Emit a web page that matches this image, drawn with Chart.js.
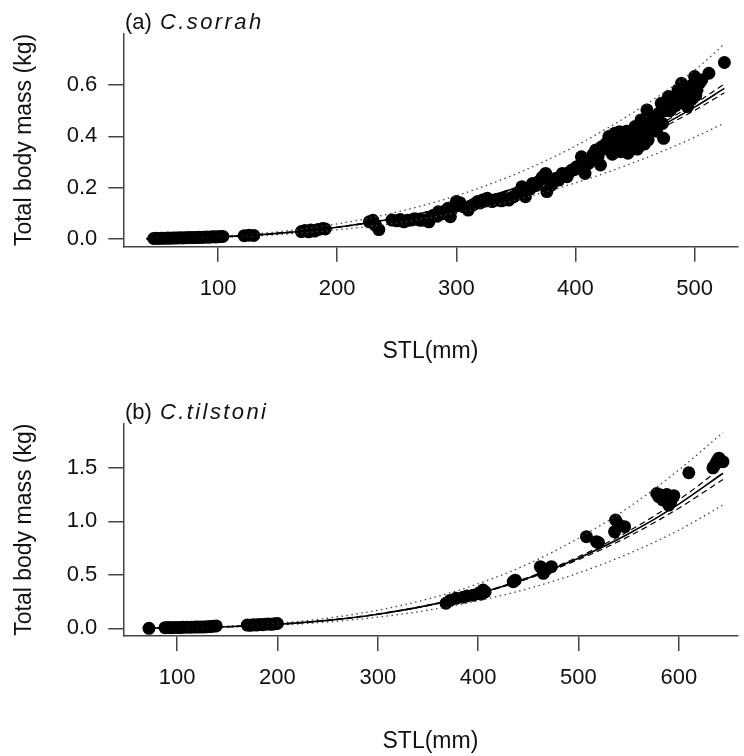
<!DOCTYPE html>
<html><head><meta charset="utf-8">
<script src="https://cdn.jsdelivr.net/npm/chart.js@4.4.1/dist/chart.umd.min.js"></script>
<style>
html,body{margin:0;padding:0;background:#fff;overflow:hidden;width:744px;height:756px}
canvas{position:absolute;left:0}
#ca{top:0}#cb{top:378px}
</style></head>
<body>
<canvas id="ca" width="744" height="378"></canvas>
<canvas id="cb" width="744" height="378"></canvas>
<script>
// ---------- Panel (a) C.sorrah ----------
const sorrahLength = [46,48,50,52,54,56,58,60,62,64,66,68,70,72,74,76,78,80,82,84,86,88,90,92,94,96,98,100,102,104,
  122,126,130,
  170,173,176,178,181,184,188,190,
  227,230,232,235,
  246,250,253,256,259,262,265,267,270,273,277,279,281,284,285,287,289,291,293,295,296,298,300,302,
  303,306,310,312,314,316,318,320,322,324,326,328,330,333,336,338,340,342,344,346,348,350,353,355,357,358,
  362,364,367,369,372,375,376,378,380,383,386,389,391,393,395,397,399,401,403,405,407,408,411,413,
  415,417,419,421,422,424,426,428,429,430,431,433,434,435,437,438,439,440,441,442,443,444,445,446,447,448,449,450,451,452,453,454,455,456,457,458,459,460,461,462,464,465,466,468,469,470,472,473,474,475,
  476,478,479,480,481,483,484,486,487,489,490,491,493,494,495,497,498,500,501,502,504,506,512,525];
const sorrahMass = [0.001,0.002,0.001,0.002,0.002,0.002,0.003,0.002,0.003,0.003,0.003,0.004,0.003,0.004,0.004,0.005,0.004,0.005,0.005,0.006,0.005,0.006,0.007,0.006,0.007,0.008,0.007,0.008,0.009,0.009,
  0.012,0.014,0.013,
  0.028,0.032,0.027,0.034,0.030,0.036,0.040,0.038,
  0.066,0.072,0.053,0.036,
  0.073,0.070,0.075,0.066,0.072,0.073,0.078,0.076,0.072,0.073,0.066,0.085,0.092,0.088,0.105,0.097,0.098,0.110,0.119,0.086,0.112,0.126,0.145,0.130,
  0.141,0.125,0.112,0.128,0.132,0.138,0.145,0.140,0.151,0.147,0.158,0.150,0.145,0.152,0.151,0.148,0.158,0.155,0.151,0.160,0.164,0.170,0.177,0.203,0.185,0.164,
  0.195,0.216,0.208,0.223,0.240,0.255,0.184,0.225,0.210,0.235,0.229,0.255,0.245,0.242,0.260,0.268,0.270,0.281,0.275,0.320,0.290,0.255,0.294,0.310,
  0.330,0.346,0.320,0.288,0.359,0.350,0.373,0.399,0.360,0.386,0.330,0.412,0.359,0.390,0.418,0.340,0.373,0.400,0.399,0.360,0.420,0.334,0.380,0.412,0.350,0.373,0.410,0.438,0.390,0.350,0.359,0.420,0.464,0.380,0.412,0.370,0.440,0.503,0.386,0.430,0.438,0.470,0.451,0.420,0.464,0.490,0.529,0.450,0.392,0.500,
  0.520,0.555,0.500,0.503,0.530,0.542,0.520,0.581,0.550,0.607,0.555,0.530,0.588,0.516,0.570,0.542,0.600,0.633,0.560,0.581,0.607,0.620,0.646,0.688];
const sorrahCurveLength = [40,75,100,150,200,250,300,350,400,450,500,525];
const sorrahFit   = [0.0006,0.0032,0.007,0.021,0.045,0.081,0.131,0.198,0.283,0.388,0.514,0.587];
const sorrahCIup  = [0.0007,0.0035,0.0077,0.022,0.046,0.082,0.132,0.200,0.287,0.395,0.527,0.604];
const sorrahCIlo  = [0.0005,0.0029,0.0063,0.020,0.044,0.080,0.130,0.196,0.279,0.381,0.501,0.570];
const sorrahPIup  = [0.0008,0.0041,0.009,0.027,0.058,0.104,0.168,0.253,0.362,0.497,0.658,0.760];
const sorrahPIlo  = [0.0005,0.0025,0.0054,0.016,0.035,0.062,0.101,0.152,0.218,0.299,0.396,0.452];
const sorrahXTicks = [100,200,300,400,500];
const sorrahYTicks = [0.0,0.2,0.4,0.6];

// ---------- Panel (b) C.tilstoni ----------
const tilstoniLength = [72,88,91,94,97,100,103,106,110,114,118,121,124,127,130,133,136,139,
  170,173,176,179,182,185,188,191,194,197,200,
  368,372,378,385,389,395,401,403,405,407,435,437,462,465,468,473,
  508,518,520,536,537,540,546,578,580,582,584,585,587,588,590,592,595,610,634,636,638,640,644];
const tilstoniMass = [0.000,0.006,0.007,0.006,0.008,0.008,0.007,0.009,0.010,0.010,0.011,0.012,0.013,0.012,0.015,0.016,0.020,0.022,
  0.030,0.028,0.033,0.030,0.036,0.034,0.038,0.040,0.037,0.042,0.045,
  0.234,0.260,0.280,0.290,0.302,0.310,0.330,0.320,0.358,0.340,0.436,0.450,0.576,0.514,0.550,0.576,
  0.856,0.810,0.800,0.903,1.012,0.970,0.950,1.260,1.230,1.246,1.200,1.220,1.199,1.250,1.152,1.180,1.240,1.454,1.500,1.526,1.560,1.590,1.557];
const tilstoniCurveLength = [70,100,150,200,250,300,350,400,450,500,550,600,644];
const tilstoniFit  = [0.0014,0.0042,0.0149,0.0368,0.0743,0.132,0.214,0.325,0.470,0.655,0.883,1.161,1.449];
const tilstoniCIup = [0.0016,0.0047,0.0160,0.0380,0.0760,0.134,0.216,0.328,0.476,0.668,0.908,1.200,1.510];
const tilstoniCIlo = [0.0012,0.0037,0.0138,0.0356,0.0726,0.130,0.212,0.322,0.464,0.642,0.858,1.122,1.390];
const tilstoniPIup = [0.0018,0.0054,0.0190,0.0470,0.0950,0.169,0.274,0.416,0.602,0.842,1.130,1.480,1.830];
const tilstoniPIlo = [0.0011,0.0033,0.0118,0.0290,0.0590,0.104,0.169,0.257,0.371,0.517,0.698,0.917,1.152];
const tilstoniXTicks = [100,200,300,400,500,600];
const tilstoniYTicks = [0.0,0.5,1.0,1.5];

const FONT = '"Liberation Sans", Arial, Helvetica, sans-serif';

const panelTitle = {
  id: 'panelTitle',
  afterDraw(chart, args, opts) {
    const ctx = chart.ctx;
    ctx.save();
    ctx.fillStyle = '#111';
    ctx.textBaseline = 'alphabetic';
    ctx.textAlign = 'left';
    ctx.font = '22px ' + FONT;
    ctx.fillText(opts.prefix, opts.x, opts.y);
    const w = ctx.measureText(opts.prefix).width;
    ctx.font = 'italic 22px ' + FONT;
    if ('letterSpacing' in ctx) ctx.letterSpacing = '2.4px';
    ctx.fillText(opts.species, opts.x + w + 2, opts.y);
    ctx.restore();
  }
};

function pairs(xs, ys) { return xs.map((x, i) => ({x: x, y: ys[i]})); }

function curve(xs, ys, dash, width, color) {
  return {data: pairs(xs, ys), showLine: true, pointRadius: 0, borderColor: color, borderWidth: width,
          borderDash: dash, fill: false, cubicInterpolationMode: 'monotone', order: 0};
}

function makeChart(id, c) {
  return new Chart(document.getElementById(id), {
    type: 'scatter',
    data: {datasets: [
      {data: pairs(c.len, c.mass), pointRadius: 6.5, pointBackgroundColor: '#000', pointBorderColor: '#000',
       pointBorderWidth: 0, showLine: false, order: 1},
      curve(c.cl, c.fit, [], 1.6, '#000'),
      curve(c.cl, c.ciu, [6, 4], 1.2, '#000'),
      curve(c.cl, c.cil, [6, 4], 1.2, '#000'),
      curve(c.cl, c.piu, [1.5, 3.5], 1.3, '#444'),
      curve(c.cl, c.pil, [1.5, 3.5], 1.3, '#444')
    ]},
    options: {
      responsive: false, animation: false, devicePixelRatio: 1,
      layout: {padding: {top: c.top, left: 0, right: 0, bottom: 0}},
      plugins: {legend: {display: false}, tooltip: {enabled: false},
                panelTitle: {prefix: c.prefix, species: c.species, x: 125, y: c.titleY}},
      scales: {
        x: {type: 'linear', min: c.xmin, max: c.xmax,
            afterBuildTicks: s => { s.ticks = c.xticks.map(v => ({value: v})); },
            afterFit: s => { s.height = c.xh; },
            grid: {display: true, drawOnChartArea: false, drawTicks: true, tickLength: 15, color: '#444', lineWidth: 1.5},
            border: {display: true, color: '#444', width: 1.5},
            ticks: {color: '#111', font: {family: FONT, size: 22}, padding: 14, maxRotation: 0, autoSkip: false,
                    callback: v => String(v)},
            title: {display: true, text: 'STL(mm)', color: '#111', font: {family: FONT, size: 23},
                    padding: {top: 0, bottom: c.xtPad}}},
        y: {type: 'linear', min: c.ymin, max: c.ymax,
            afterBuildTicks: s => { s.ticks = c.yticks.map(v => ({value: v})); },
            afterFit: s => { s.width = 123.3; },
            grid: {display: true, drawOnChartArea: false, drawTicks: true, tickLength: 15, color: '#444', lineWidth: 1.5},
            border: {display: true, color: '#444', width: 1.5},
            ticks: {color: '#111', font: {family: FONT, size: 22}, padding: 11, autoSkip: false,
                    callback: v => Number(v).toFixed(1)},
            title: {display: true, text: 'Total body mass (kg)', color: '#111', font: {family: FONT, size: 23},
                    padding: {top: 11, bottom: 0}}}
      }
    },
    plugins: [panelTitle]
  });
}

makeChart('ca', {len: sorrahLength, mass: sorrahMass, cl: sorrahCurveLength, fit: sorrahFit,
  ciu: sorrahCIup, cil: sorrahCIlo, piu: sorrahPIup, pil: sorrahPIlo,
  xticks: sorrahXTicks, yticks: sorrahYTicks, xmin: 20.5, xmax: 536, ymin: -0.031, ymax: 0.802,
  top: 33.3, xh: 131.3, xtPad: 12.5, prefix: '(a) ', species: 'C.sorrah', titleY: 29});

makeChart('cb', {len: tilstoniLength, mass: tilstoniMass, cl: tilstoniCurveLength, fit: tilstoniFit,
  ciu: tilstoniCIup, cil: tilstoniCIlo, piu: tilstoniPIup, pil: tilstoniPIlo,
  xticks: tilstoniXTicks, yticks: tilstoniYTicks, xmin: 46.4, xmax: 658.5, ymin: -0.072, ymax: 1.916,
  top: 45.3, xh: 120, xtPad: 0.5, prefix: '(b) ', species: 'C.tilstoni', titleY: 41});
</script>
</body></html>
